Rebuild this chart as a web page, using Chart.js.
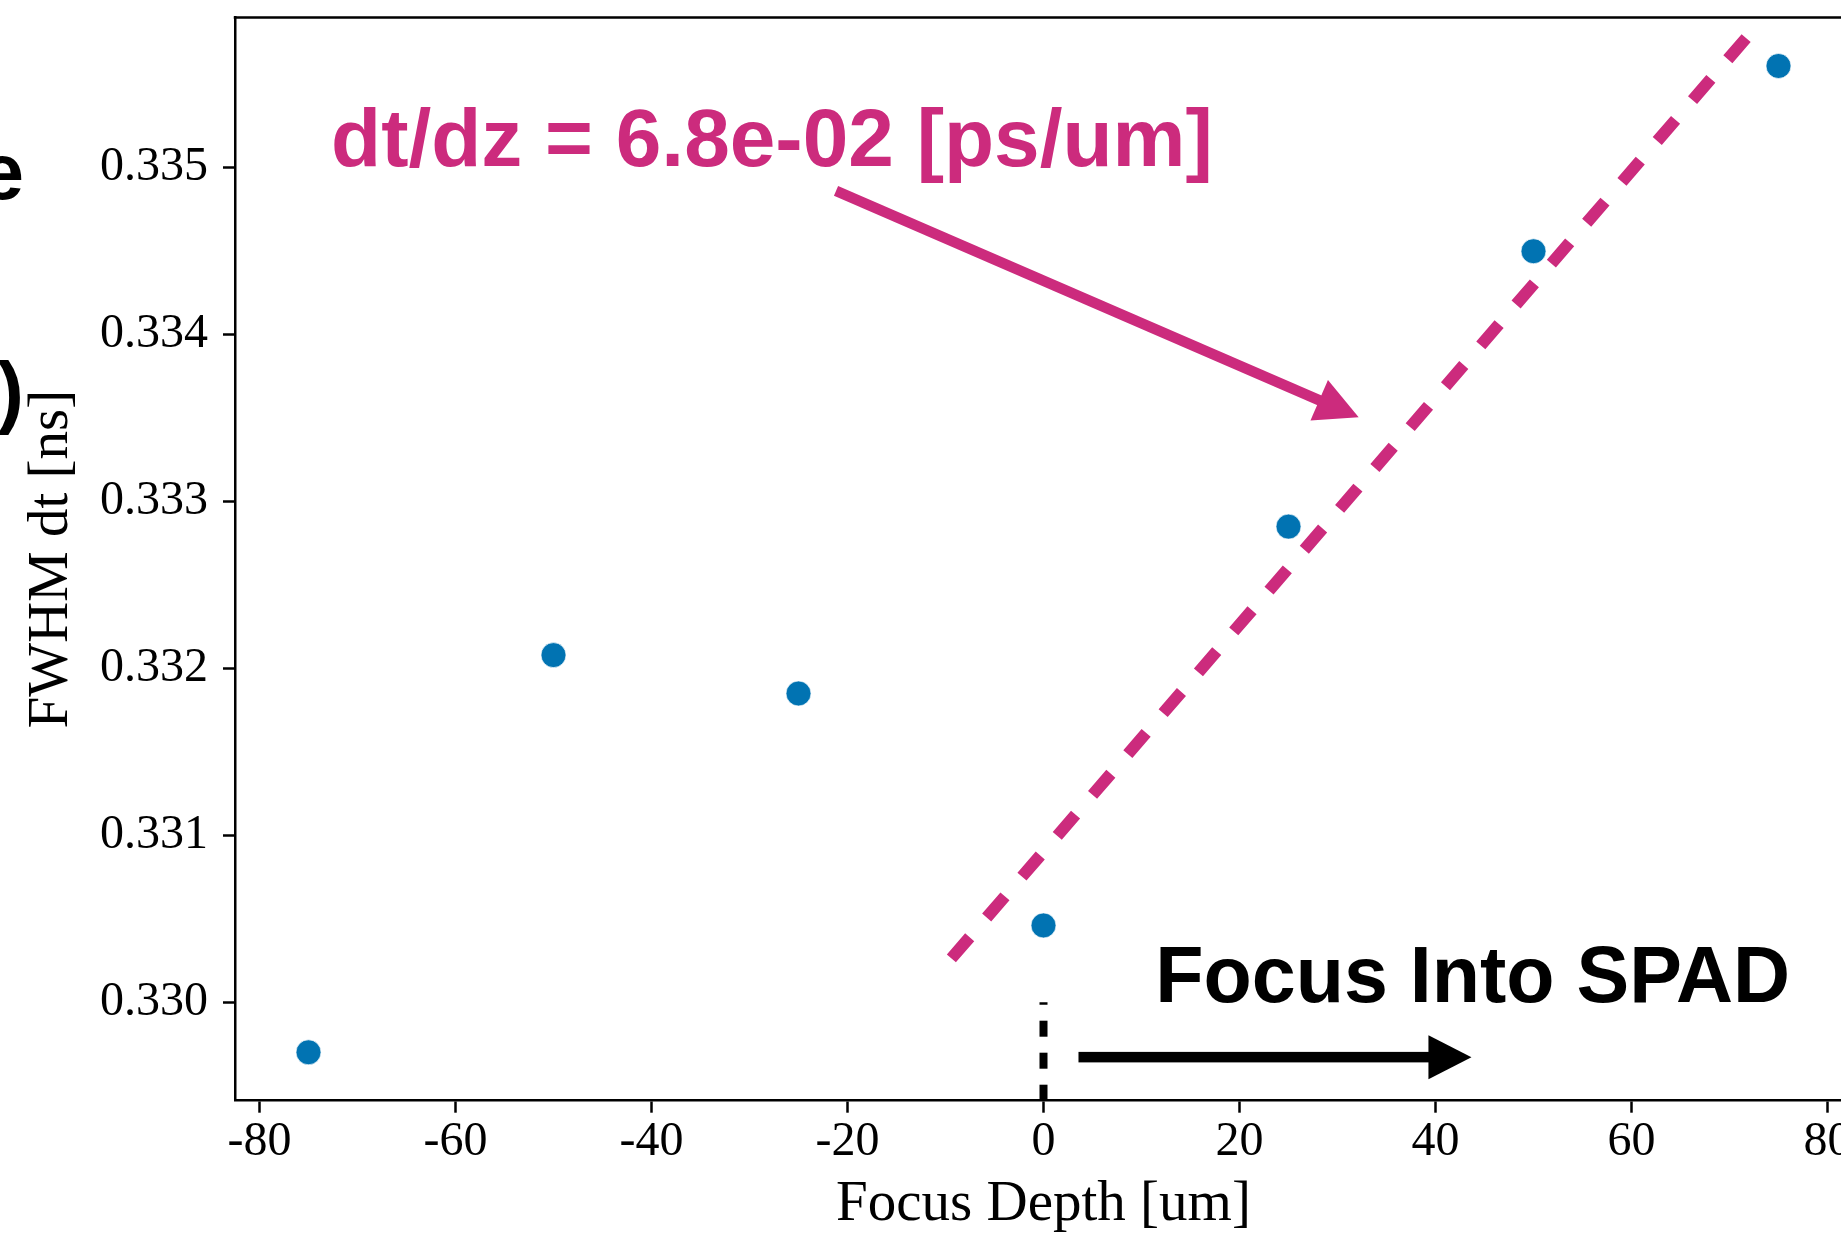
<!DOCTYPE html>
<html>
<head>
<meta charset="utf-8">
<title>FWHM dt vs focus depth</title>
<script src="https://cdn.jsdelivr.net/npm/chart.js@4.4.1/dist/chart.umd.min.js"></script>
<style>
  html, body { margin: 0; padding: 0; background: #fff; overflow: hidden; }
  #wrap { position: relative; width: 1870px; height: 1234px; }
</style>
</head>
<body>
<div id="wrap"><canvas id="fwhmChart" width="1870" height="1234"></canvas></div>
<script>
// FWHM of the timing peak at each focus depth
const focusDepth = [-75, -50, -25, 0, 25, 50, 75];
const fwhmDt = [0.32970, 0.33208, 0.33185, 0.33046, 0.33285, 0.33450, 0.33561];

const xTicks = [-80, -60, -40, -20, 0, 20, 40, 60, 80];
const yTicks = [0.330, 0.331, 0.332, 0.333, 0.334, 0.335];

// slope of the dashed guide line, in ps/um
const slopePsPerUm = 0.068;
const fitSpan = [-9.4, 71.7];
const fitMid = [31.15, 0.33302];

// dashed marker at zero depth runs up to this value
const zeroMarkTop = 0.330;

// annotation anchors, in data units [um, ns]
const slopeLabelAt = [-72.7, 0.33501];
const slopeArrow = [[-21.17, 0.334862], [32.16, 0.333505]];
const directionLabelAt = [11.4, 0.33000];
const directionArrow = [[3.57, 0.329671], [43.67, 0.329671]];

const yMin = 0.32941;
const yMax = 0.33590;

const MAGENTA = "#CC2B7D";
const BLUE = "#0173B2";
const SERIF = '"Liberation Serif", "DejaVu Serif", serif';
const SANS = '"Liberation Sans", Arial, sans-serif';

const fitLine = fitSpan.map((x) => ({
    x,
    y: fitMid[1] + ((x - fitMid[0]) * slopePsPerUm) / 1000,
}));

function drawArrow(ctx, x0, y0, x1, y1, color) {
    const shaft = 10.5;
    const headLen = 43;
    const headWidth = 44;
    const ang = Math.atan2(y1 - y0, x1 - x0);
    const len = Math.hypot(x1 - x0, y1 - y0);
    ctx.save();
    ctx.translate(x0, y0);
    ctx.rotate(ang);
    ctx.fillStyle = color;
    ctx.fillRect(0, -shaft / 2, len - headLen + 1, shaft);
    ctx.beginPath();
    ctx.moveTo(len, 0);
    ctx.lineTo(len - headLen, -headWidth / 2);
    ctx.lineTo(len - headLen, headWidth / 2);
    ctx.closePath();
    ctx.fill();
    ctx.restore();
}

// Text, arrows and the frame top drawn over the plot
const overlay = {
    id: "overlay",
    afterDraw(chart) {
        const { ctx, chartArea } = chart;
        const xs = chart.scales.x;
        const ys = chart.scales.y;
        const px = (p) => [xs.getPixelForValue(p[0]), ys.getPixelForValue(p[1])];

        ctx.save();
        // top and right spines
        ctx.strokeStyle = "#000";
        ctx.lineWidth = 2.5;
        ctx.beginPath();
        ctx.moveTo(chartArea.left - 1.25, chartArea.top);
        ctx.lineTo(chartArea.right, chartArea.top);
        ctx.lineTo(chartArea.right, chartArea.bottom);
        ctx.stroke();

        ctx.textAlign = "left";
        ctx.textBaseline = "alphabetic";

        ctx.font = `bold 82px ${SANS}`;
        ctx.fillStyle = MAGENTA;
        const [lx, ly] = px(slopeLabelAt);
        ctx.fillText(`dt/dz = ${slopePsPerUm.toExponential(1).replace("e-", "e-0")} [ps/um]`, lx, ly);

        const [a0x, a0y] = px(slopeArrow[0]);
        const [a1x, a1y] = px(slopeArrow[1]);
        drawArrow(ctx, a0x, a0y, a1x, a1y, MAGENTA);

        ctx.font = `bold 79px ${SANS}`;
        ctx.fillStyle = "#000";
        const [dx, dy] = px(directionLabelAt);
        ctx.fillText("Focus Into SPAD", dx, dy);

        const [b0x, b0y] = px(directionArrow[0]);
        const [b1x, b1y] = px(directionArrow[1]);
        drawArrow(ctx, b0x, b0y, b1x, b1y, "#000");

        // slide text running in from the left edge
        ctx.font = `bold 80px ${SANS}`;
        ctx.textAlign = "right";
        ctx.fillText("e", 24, 199);
        ctx.fillText(")", 24, 418);
        ctx.restore();
    },
};

const ctx = document.getElementById("fwhmChart").getContext("2d");

new Chart(ctx, {
    type: "scatter",
    data: {
        datasets: [
            {
                data: focusDepth.map((x, i) => ({ x, y: fwhmDt[i] })),
                backgroundColor: BLUE,
                borderColor: "rgba(255,255,255,0.7)",
                borderWidth: 1,
                pointRadius: 12.5,
                pointHoverRadius: 12.5,
                order: 0,
            },
            {
                type: "line",
                data: fitLine,
                borderColor: MAGENTA,
                borderWidth: 12,
                borderDash: [28, 26],
                borderCapStyle: "butt",
                pointRadius: 0,
                order: 1,
            },
            {
                type: "line",
                data: [
                    { x: 0, y: yMin },
                    { x: 0, y: zeroMarkTop },
                ],
                borderColor: "#000",
                borderWidth: 8,
                borderDash: [16, 16],
                borderCapStyle: "butt",
                pointRadius: 0,
                order: 2,
            },
        ],
    },
    options: {
        responsive: false,
        animation: false,
        devicePixelRatio: 1,
        layout: { padding: { top: 17.6, right: 18, left: 0, bottom: 0 } },
        plugins: {
            legend: { display: false },
            tooltip: { enabled: false },
        },
        scales: {
            x: {
                type: "linear",
                min: -82.5,
                max: 82.5,
                afterBuildTicks: (s) => {
                    s.ticks = xTicks.map((v) => ({ value: v }));
                },
                afterFit: (s) => {
                    s.height = 133.3;
                    s.paddingLeft = 0;
                    s.paddingRight = 0;
                },
                ticks: {
                    color: "#000",
                    font: { family: SERIF, size: 48, lineHeight: 1.2 },
                    padding: 1,
                    maxRotation: 0,
                    autoSkip: false,
                    callback: (v) => String(v),
                },
                grid: {
                    drawOnChartArea: false,
                    drawTicks: true,
                    tickLength: 12,
                    tickWidth: 2.5,
                    tickColor: "#000",
                },
                border: { display: true, color: "#000", width: 2.5 },
                title: {
                    display: true,
                    text: "Focus Depth [um]",
                    color: "#000",
                    font: { family: SERIF, size: 57, lineHeight: 1 },
                    padding: { top: 0, bottom: 0 },
                },
            },
            y: {
                type: "linear",
                min: yMin,
                max: yMax,
                afterBuildTicks: (s) => {
                    s.ticks = yTicks.map((v) => ({ value: v }));
                },
                afterFit: (s) => {
                    s.width = 235;
                    s.paddingTop = 0;
                    s.paddingBottom = 0;
                },
                ticks: {
                    color: "#000",
                    font: { family: SERIF, size: 48 },
                    padding: 15,
                    autoSkip: false,
                    callback: (v) => v.toFixed(3),
                },
                grid: {
                    drawOnChartArea: false,
                    drawTicks: true,
                    tickLength: 12,
                    tickWidth: 2.5,
                    tickColor: "#000",
                },
                border: { display: true, color: "#000", width: 2.5 },
                title: {
                    display: true,
                    text: "FWHM dt [ns]",
                    color: "#000",
                    font: { family: SERIF, size: 57, lineHeight: 1 },
                    padding: { top: 24, bottom: 0 },
                },
            },
        },
    },
    plugins: [overlay],
});
</script>
</body>
</html>
